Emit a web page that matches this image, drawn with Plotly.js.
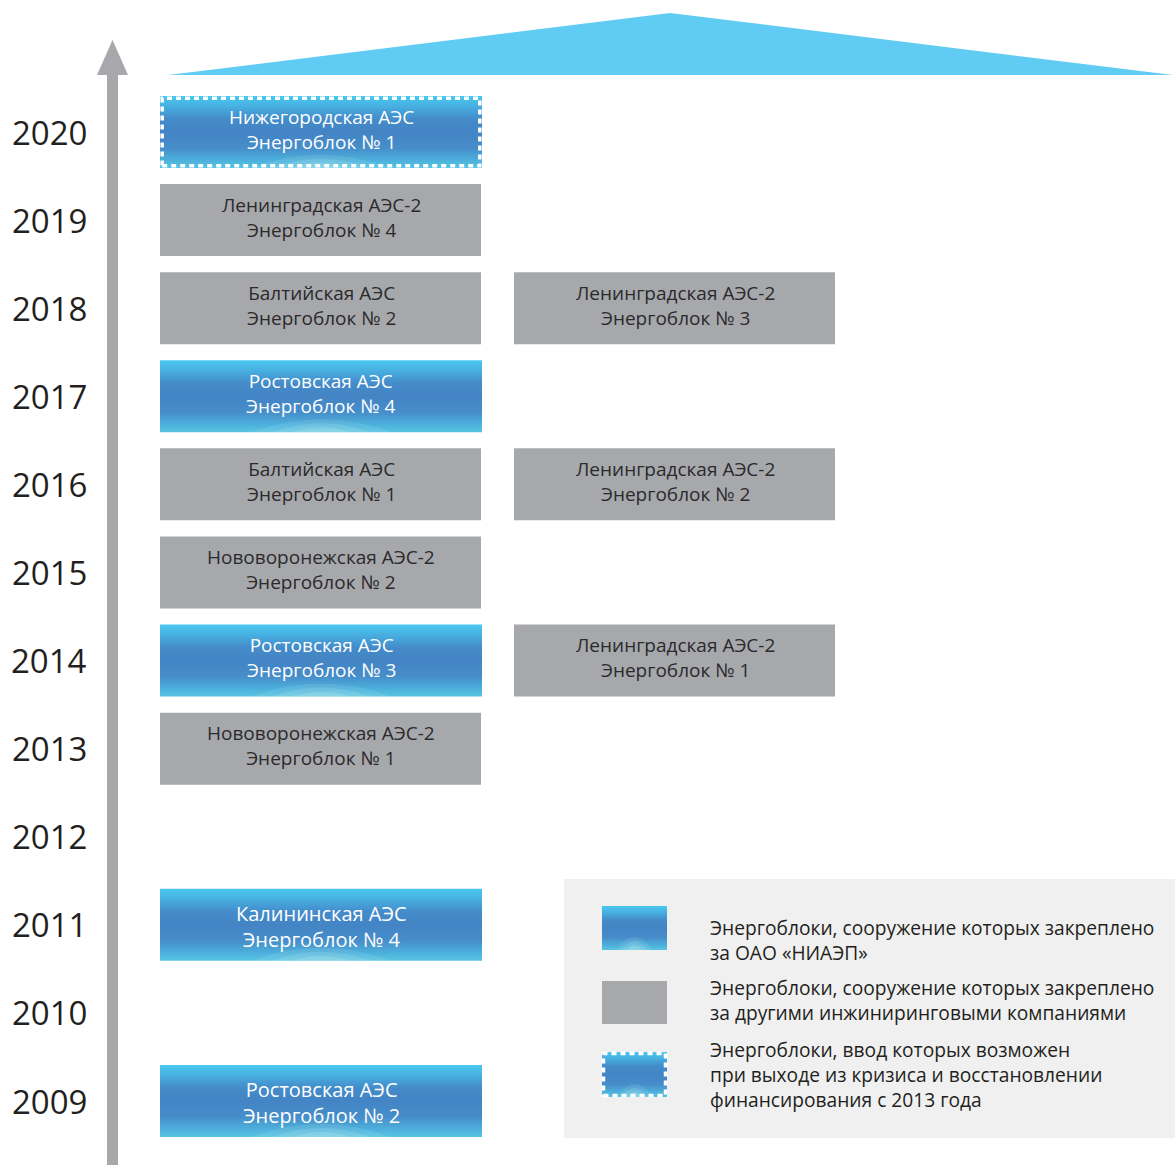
<!DOCTYPE html>
<html>
<head>
<meta charset="utf-8">
<script src="https://cdn.plot.ly/plotly-3.0.1.min.js"></script>
<style>html,body{margin:0;padding:0;background:#fff;}#chart{width:1175px;height:1165px;}</style>
</head>
<body>
<div id="chart"></div>
<script>
// ---------------- DATA ----------------
const yearTicks = [2009, 2010, 2011, 2012, 2013, 2014, 2015, 2016, 2017, 2018, 2019, 2020];

const boxYears   = [2009, 2011, 2013, 2014, 2014, 2015, 2016, 2016, 2017, 2018, 2018, 2019, 2020];
const boxColumns = [1, 1, 1, 1, 2, 1, 1, 2, 1, 1, 2, 1, 1];
const boxStations = [
  "Ростовская АЭС", "Калининская АЭС", "Нововоронежская АЭС-2", "Ростовская АЭС",
  "Ленинградская АЭС-2", "Нововоронежская АЭС-2", "Балтийская АЭС", "Ленинградская АЭС-2",
  "Ростовская АЭС", "Балтийская АЭС", "Ленинградская АЭС-2", "Ленинградская АЭС-2",
  "Нижегородская АЭС"
];
const boxUnits = [2, 4, 1, 3, 1, 2, 1, 2, 4, 2, 3, 4, 1];
const boxKinds = ["niaep", "niaep", "other", "niaep", "other", "other", "other", "other",
                  "niaep", "other", "other", "other", "crisis"];

const legendKinds = ["niaep", "other", "crisis"];
const legendTexts = [
  "Энергоблоки, сооружение которых закреплено<br>за ОАО «НИАЭП»",
  "Энергоблоки, сооружение которых закреплено<br>за другими инжиниринговыми компаниями",
  "Энергоблоки, ввод которых возможен<br>при выходе из кризиса и восстановлении<br>финансирования с 2013 года"
];

// ---------------- STYLE / GEOMETRY ----------------
const W = 1175, H = 1165;
const FONT = "Open Sans, Noto Sans, DejaVu Sans, sans-serif";
const DARK = "#231f20";
const GREY = "#a7a8ab";
const ARROW = "#a7a8ac";
const SKY = "#60ccf4";
const PX_PER_COL = 354, COL1_PX = 320.5;
const PX_PER_YEAR = 969 / 11, Y2020_PX = 132;
const xRange = [1 - COL1_PX / PX_PER_COL, 1 + (W - COL1_PX) / PX_PER_COL];
const yRange = [2020 - (H - Y2020_PX) / PX_PER_YEAR, 2020 + Y2020_PX / PX_PER_YEAR];
const toX = px => 1 + (px - COL1_PX) / PX_PER_COL;
const toY = py => 2020 - (py - Y2020_PX) / PX_PER_YEAR;
const HW = 160.5 / PX_PER_COL, HH = 36 / PX_PER_YEAR;
const BLUE_SCALE = [[0, "#58c4e3"], [0.1, "#4db2dc"], [0.28, "#468dca"], [0.5, "#4384c5"],
                    [0.68, "#448bc9"], [0.86, "#47b0e2"], [1, "#4bc9f0"]];
const px = x => x / W, py = y => 1 - y / H;

function rectTrace(x0, x1, y0, y1, kind) {
  const t = {
    type: "scatter", mode: "none", fill: "toself", hoverinfo: "skip", showlegend: false,
    x: [x0, x1, x1, x0, x0], y: [y0, y0, y1, y1, y0]
  };
  if (kind === "other") { t.fillcolor = GREY; }
  else { t.fillcolor = "#4586c7"; t.fillgradient = {type: "vertical", colorscale: BLUE_SCALE}; }
  return t;
}
function glow(cx, yb, halfWpx) {
  // soft light at the bottom centre of blue boxes
  const out = [];
  [[1.0, 13, 0.10], [0.7, 9, 0.12], [0.4, 5, 0.14]].forEach(([f, hpx, op]) => {
    const w = halfWpx * f / PX_PER_COL, h = 2 * hpx / PX_PER_YEAR;
    out.push({type: "path", xref: "x", yref: "y", layer: "above",
              path: `M ${cx - w},${yb} Q ${cx},${yb + h} ${cx + w},${yb} Z`,
              fillcolor: `rgba(235,255,250,${op})`, line: {width: 0}});
  });
  return out;
}
function dottedBorder(x0, x1, y0, y1) {
  return {type: "rect", xref: "x", yref: "y", x0: x0, x1: x1, y0: y0, y1: y1, layer: "above",
          line: {color: "#ffffff", width: 3.5, dash: "5px,4px"}, fillcolor: "rgba(0,0,0,0)"};
}

const traces = [];
const shapes = [];
const annotations = [];

// background decorations
shapes.push({type: "rect", xref: "paper", yref: "paper", x0: px(564), x1: px(1175), y0: py(1138), y1: py(879),
             fillcolor: "#f0f0f0", line: {width: 0}, layer: "below"});
shapes.push({type: "path", xref: "paper", yref: "paper", layer: "below",
             path: `M ${px(168)},${py(75)} L ${px(670)},${py(13)} L ${px(1173)},${py(75)} Z`,
             fillcolor: SKY, line: {width: 0}});
shapes.push({type: "rect", xref: "paper", yref: "paper", layer: "below",
             x0: px(107), x1: px(118), y0: py(1165), y1: py(74), fillcolor: ARROW, line: {width: 0}});
shapes.push({type: "path", xref: "paper", yref: "paper", layer: "below",
             path: `M ${px(97)},${py(75)} L ${px(112.5)},${py(40)} L ${px(128)},${py(75)} Z`,
             fillcolor: ARROW, line: {width: 0}});

// year labels
yearTicks.forEach(y => {
  annotations.push({xref: "paper", yref: "y", x: px(89), y: y, xanchor: "right", yanchor: "middle",
                    text: String(y), showarrow: false, font: {family: FONT, size: 33, color: DARK}});
});

// boxes
boxYears.forEach((yr, i) => {
  const cx = boxColumns[i], kind = boxKinds[i];
  const x0 = cx - HW, x1 = cx + HW + (kind === "other" ? 0 : 1 / PX_PER_COL);
  const y0 = yr - HH, y1 = yr + HH;
  traces.push(rectTrace(x0, x1, y0, y1, kind));
  if (kind !== "other") glow((x0 + x1) / 2, y0, 70).forEach(s => shapes.push(s));
  if (kind === "crisis") {
    shapes.push(dottedBorder(x0 + 2.2 / PX_PER_COL, x1 - 2.2 / PX_PER_COL,
                             y0 + 2.2 / PX_PER_YEAR, y1 - 2.2 / PX_PER_YEAR));
  }
  const compact = yr < 2012;
  const color = kind === "other" ? "#2b2a2b" : "#ffffff";
  annotations.push({xref: "x", yref: "y", x: cx + 0.5 / PX_PER_COL, y: yr, yshift: compact ? -1.5 : 3,
                    xanchor: "center", yanchor: "middle", align: "center",
                    text: boxStations[i] + "<br>Энергоблок № " + boxUnits[i], showarrow: false,
                    font: {family: FONT, size: compact ? 20 : 19, color: color}});
});

// legend
const legendSwatchY = [[906, 950], [981, 1024], [1052, 1097]];
const legendTextY = [940, 1000, 1074];
legendKinds.forEach((kind, i) => {
  const x0 = toX(602), x1 = toX(667);
  const y0 = toY(legendSwatchY[i][1]), y1 = toY(legendSwatchY[i][0]);
  traces.push(rectTrace(x0, x1, y0, y1, kind));
  if (kind !== "other") glow((x0 + x1) / 2, y0, 18).forEach(s => shapes.push(s));
  if (kind === "crisis") {
    shapes.push(dottedBorder(x0 + 1.5 / PX_PER_COL, x1 - 1.5 / PX_PER_COL,
                             y0 + 1.5 / PX_PER_YEAR, y1 - 1.5 / PX_PER_YEAR));
  }
  annotations.push({xref: "paper", yref: "paper", x: px(708), y: py(legendTextY[i]),
                    xanchor: "left", yanchor: "middle", align: "left", text: legendTexts[i],
                    showarrow: false, font: {family: FONT, size: 19.2, color: DARK}});
});

const layout = {
  width: W, height: H, margin: {l: 0, r: 0, t: 0, b: 0},
  paper_bgcolor: "#ffffff", plot_bgcolor: "rgba(0,0,0,0)",
  showlegend: false,
  xaxis: {range: xRange, visible: false, fixedrange: true},
  yaxis: {range: yRange, visible: false, fixedrange: true},
  shapes: shapes, annotations: annotations
};
Plotly.newPlot("chart", traces, layout, {staticPlot: true, displayModeBar: false});
</script>
</body>
</html>
